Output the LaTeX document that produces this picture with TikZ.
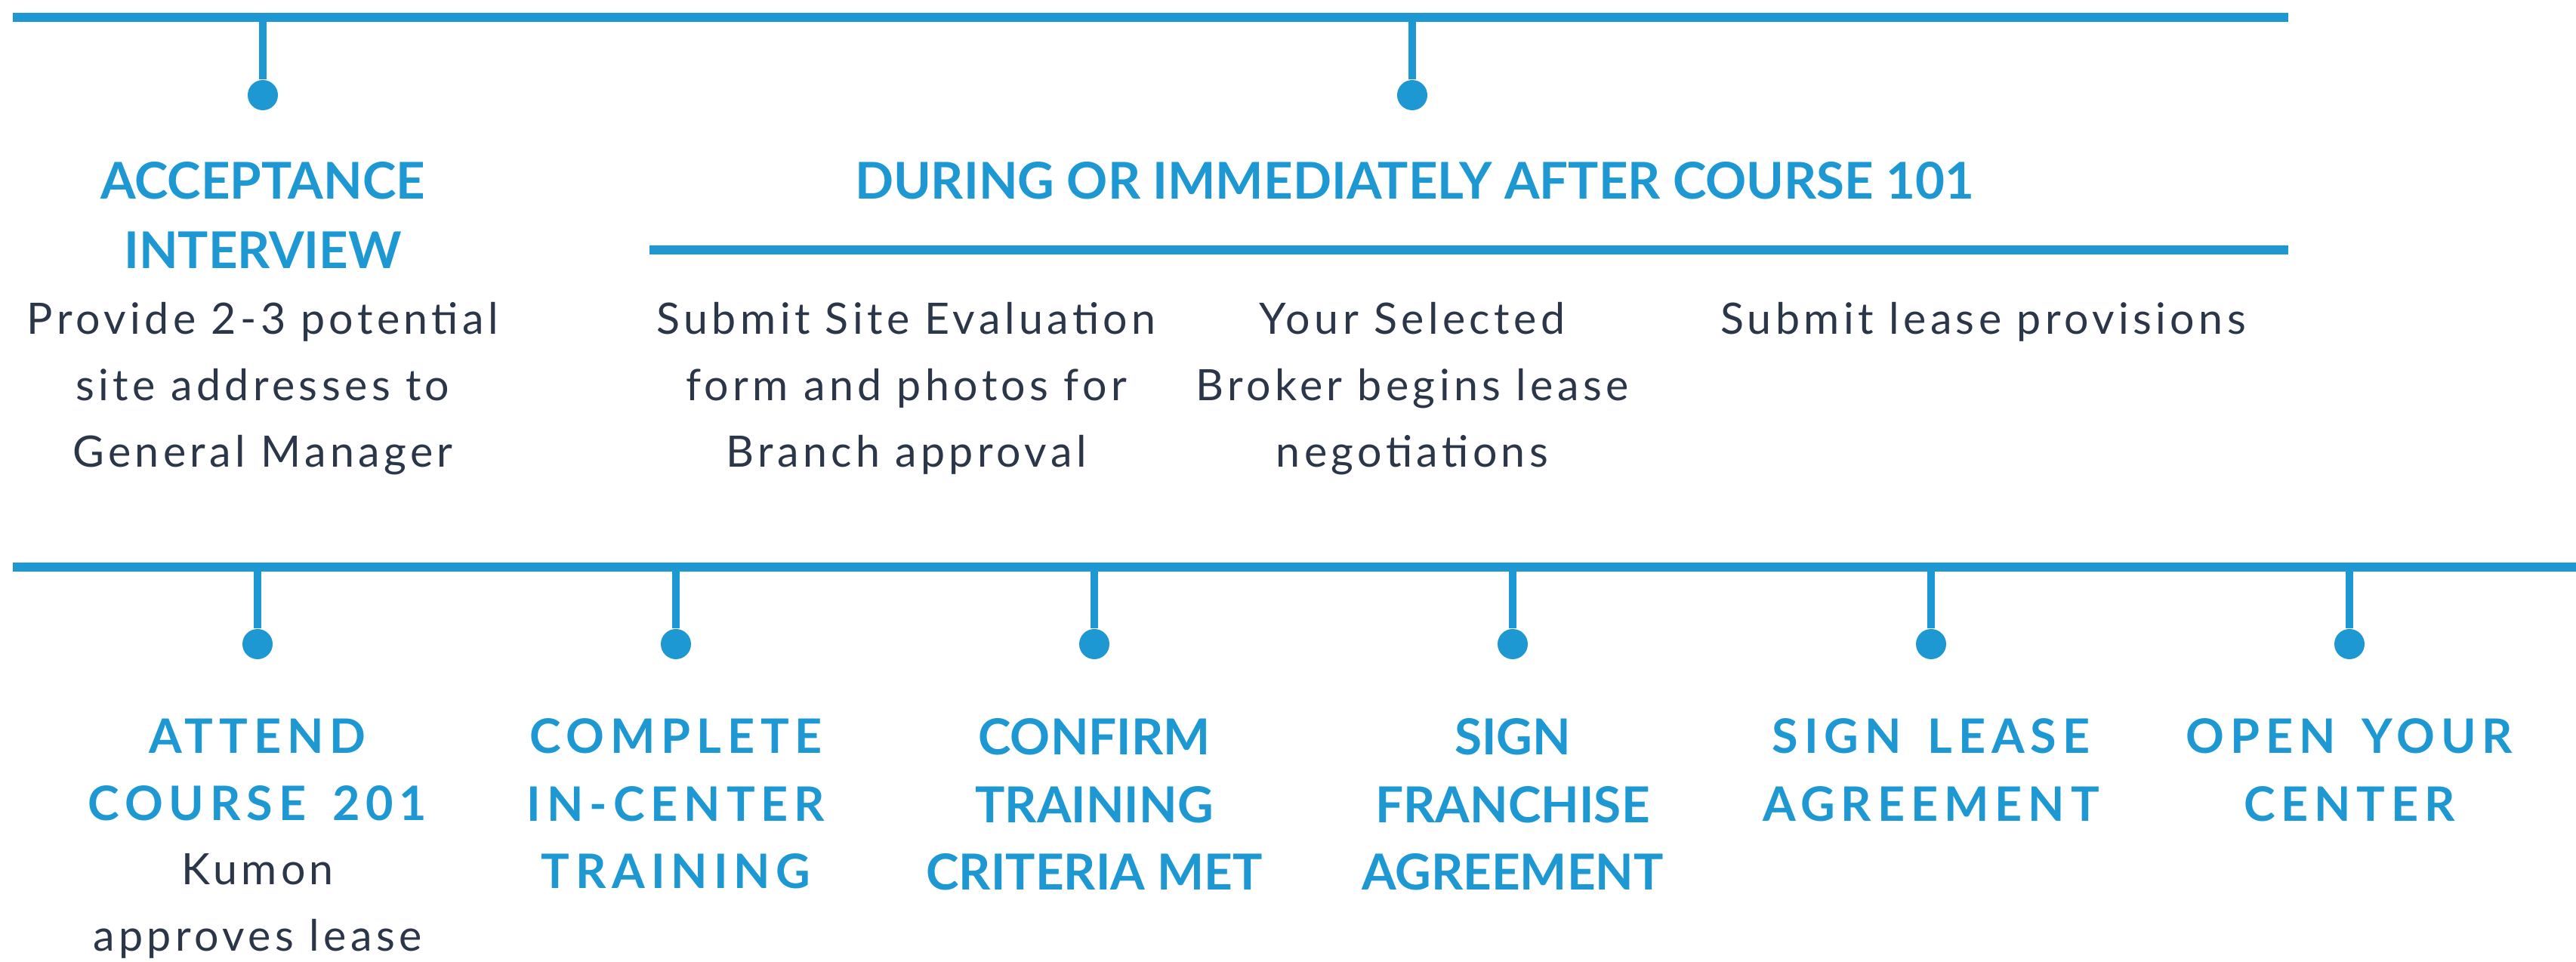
\documentclass[tikz,border=0pt]{standalone}
\usepackage{fontspec}
\setmainfont{Lato}
\newfontfamily\trackedfont{Lato}[LetterSpace=12.5,WordSpace=1.5]
\newfontfamily\bodyfont{Lato}[LetterSpace=9.5]
\usepackage{xcolor}
\usetikzlibrary{positioning}
\definecolor{kblue}{HTML}{1D98D3}
\definecolor{kink}{HTML}{2B3649}

\begin{document}
\begin{tikzpicture}[
  rail/.style={draw=kblue, line width=3.6pt},
  stem/.style={draw=kblue, line width=3.1pt},
  dot/.style={circle, fill=kblue, inner sep=0pt, minimum size=0.4cm},
  head/.style={anchor=north, inner sep=0pt, align=center, text=kblue,
               font=\fontsize{18.7}{25.5}\selectfont\bfseries},
  tophead/.style={head, font=\fontsize{19.1}{26}\selectfont\bfseries},
  headwide/.style={head, font=\fontsize{17.9}{25.5}\selectfont\trackedfont\bfseries},
  body/.style={anchor=north, inner sep=0pt, align=center, text=kink,
               font=\fontsize{16.3}{25}\selectfont\bodyfont},
]
\useasboundingbox (0,0) rectangle (34.11,-12.74);

% rails
\coordinate (topL) at (0.17,-0.23);
\coordinate (topR) at (30.30,-0.23);
\coordinate (midL) at (8.60,-3.31);
\coordinate (midR) at (30.30,-3.31);
\coordinate (lowL) at (0.17,-7.51);
\coordinate (lowR) at (34.11,-7.51);
\draw[rail] (topL) -- (topR);
\draw[rail] (midL) -- (midR);
\draw[rail] (lowL) -- (lowR);

% upper stems
\coordinate (s1) at (3.48,-0.23);
\coordinate (s2) at (18.70,-0.23);
\node[dot] (d1) at (3.48,-1.26) {};
\node[dot] (d2) at (18.70,-1.26) {};
\draw[stem] (s1) -- (d1);
\draw[stem] (s2) -- (d2);

% lower stems
\coordinate (s3) at (3.41,-7.51);
\coordinate (s4) at (8.95,-7.51);
\coordinate (s5) at (14.49,-7.51);
\coordinate (s6) at (20.03,-7.51);
\coordinate (s7) at (25.57,-7.51);
\coordinate (s8) at (31.11,-7.51);
\node[dot] (d3) at (3.41,-8.53) {};
\node[dot] (d4) at (8.95,-8.53) {};
\node[dot] (d5) at (14.49,-8.53) {};
\node[dot] (d6) at (20.03,-8.53) {};
\node[dot] (d7) at (25.57,-8.53) {};
\node[dot] (d8) at (31.11,-8.53) {};
\draw[stem] (s3) -- (d3); \draw[stem] (s4) -- (d4);
\draw[stem] (s5) -- (d5); \draw[stem] (s6) -- (d6);
\draw[stem] (s7) -- (d7); \draw[stem] (s8) -- (d8);

% upper texts
\node[tophead] (accHead) at (3.48,-2.14) {ACCEPTANCE\\INTERVIEW};
\node[body] (accBody) at (3.48,-4.00) {Provide 2-3 potential\\site addresses to\\General Manager};
\node[tophead] (courseHead) at (18.73,-2.14) {DURING OR IMMEDIATELY AFTER COURSE 101};
\node[body] (siteBody) at (12.00,-4.00) {Submit Site Evaluation\\form and photos for\\Branch approval};
\node[body] (brokerBody) at (18.70,-4.00) {Your Selected\\Broker begins lease\\negotiations};
\node[body] (provBody) at (26.26,-4.00) {Submit lease provisions};

% lower texts
\node[headwide] (attendHead) at (3.41,-9.51) {ATTEND\\COURSE 201};
\node[body] (attendBody) at (3.41,-11.30) {Kumon\\approves lease};
\node[headwide] (trainHead) at (8.95,-9.51) {COMPLETE\\IN-CENTER\\TRAINING};
\node[head] (confirmHead) at (14.49,-9.51) {CONFIRM\\TRAINING\\CRITERIA MET};
\node[head] (franHead) at (20.03,-9.51) {SIGN\\FRANCHISE\\AGREEMENT};
\node[headwide] (leaseHead) at (25.57,-9.51) {SIGN LEASE\\AGREEMENT};
\node[headwide] (openHead) at (31.11,-9.51) {OPEN YOUR\\CENTER};
\end{tikzpicture}
\end{document}
